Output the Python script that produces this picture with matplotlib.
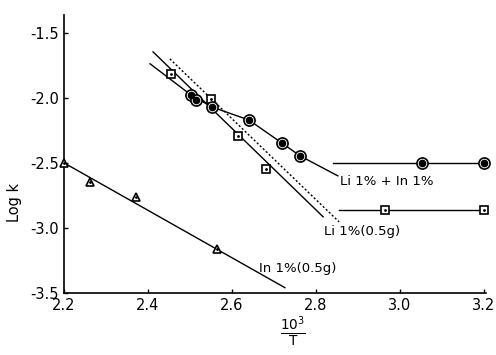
import numpy as np
import matplotlib
matplotlib.use("Agg")
import matplotlib.pyplot as plt

plt.rcParams['axes.unicode_minus'] = False

# In 1% (0.5 g) - triangles
tri_x = [2.20, 2.262, 2.371, 2.564]
tri_y = [-2.50, -2.65, -2.76, -3.16]
tri_line_x = [2.20, 2.726]
tri_line_y = [-2.50, -3.46]

# Li 1% (0.5 g) - squares
sq_x = [2.455, 2.55, 2.614, 2.681]
sq_y = [-1.82, -2.01, -2.29, -2.546]
sq_flat_x = [2.964, 3.20]
sq_flat_y = [-2.86, -2.86]
sq_line_x = [2.412, 2.817]
sq_line_y = [-1.646, -2.915]
dot_line_x = [2.452, 2.855]
dot_line_y = [-1.70, -2.954]
sq_flat_line_x = [2.855, 3.20]

# Li 1% + In 1% - circles
ci_x = [2.502, 2.514, 2.552, 2.64, 2.72, 2.762]
ci_y = [-1.977, -2.015, -2.07, -2.17, -2.35, -2.446]
ci_flat_x = [3.052, 3.20]
ci_flat_y = [-2.50, -2.50]
ci_line_x = [2.405, 2.502, 2.552, 2.64, 2.72, 2.762, 2.852]
ci_line_y = [-1.738, -1.977, -2.07, -2.17, -2.35, -2.446, -2.60]
ci_flat_line_x = [2.84, 3.20]

fig = plt.figure(figsize=(4.96, 3.55), dpi=100)
ax = fig.add_axes([0.129, 0.175, 0.851, 0.783])

lw = 1.0
ax.plot(tri_line_x, tri_line_y, color='black', lw=lw, zorder=1)
ax.plot(sq_line_x, sq_line_y, color='black', lw=lw, zorder=1)
ax.plot(dot_line_x, dot_line_y, color='black', lw=lw, ls=(0, (1.5, 1.5)), zorder=1)
ax.plot(ci_line_x, ci_line_y, color='black', lw=lw, zorder=1)
ax.plot(sq_flat_line_x, sq_flat_y, color='black', lw=lw, zorder=1)
ax.plot(ci_flat_line_x, ci_flat_y, color='black', lw=lw, zorder=1)

# markers
ax.plot(tri_x, tri_y, ls='none', marker='^', ms=6, mfc='white', mec='black', mew=1.2, zorder=3, clip_on=False)
ax.plot(tri_x, tri_y, ls='none', marker='.', ms=2, color='black', zorder=4, clip_on=False)
sx = sq_x + sq_flat_x
sy = sq_y + sq_flat_y
ax.plot(sx, sy, ls='none', marker='s', ms=6, mfc='white', mec='black', mew=1.2, zorder=3, clip_on=False)
ax.plot(sx, sy, ls='none', marker='.', ms=2, color='black', zorder=4, clip_on=False)
cx = ci_x + ci_flat_x
cy = ci_y + ci_flat_y
ax.plot(cx, cy, ls='none', marker='o', ms=8, mfc='white', mec='black', mew=1.2, zorder=3, clip_on=False)
ax.plot(cx, cy, ls='none', marker='o', ms=4.5, color='black', zorder=4, clip_on=False)

ax.text(2.858, -2.645, "Li 1% + In 1%", fontsize=9.5, ha='left', va='center')
ax.text(2.82, -3.03, "Li 1%(0.5g)", fontsize=9.5, ha='left', va='center')
ax.text(2.665, -3.31, "In 1%(0.5g)", fontsize=9.5, ha='left', va='center')

ax.set_xlim(2.2, 3.205)
ax.set_ylim(-3.5, -1.362)
ax.set_xticks([2.2, 2.4, 2.6, 2.8, 3.0, 3.2])
ax.set_yticks([-1.5, -2.0, -2.5, -3.0, -3.5])
ax.set_xticklabels(["2.2", "2.4", "2.6", "2.8", "3.0", "3.2"])
ax.set_yticklabels(["-1.5", "-2.0", "-2.5", "-3.0", "-3.5"])
ax.tick_params(direction='in', length=3, labelsize=10.5, width=1)
ax.spines['top'].set_visible(False)
ax.spines['right'].set_visible(False)
ax.spines['left'].set_linewidth(1.2)
ax.spines['bottom'].set_linewidth(1.2)

fig.text(0.03, 0.43, "Log k", rotation=90, fontsize=10.5, ha='center', va='center')
fig.text(0.59, 0.065, r"$\frac{10^3}{\mathrm{T}}$", fontsize=14, ha='center', va='center')

fig.savefig("out.png", dpi=100)
